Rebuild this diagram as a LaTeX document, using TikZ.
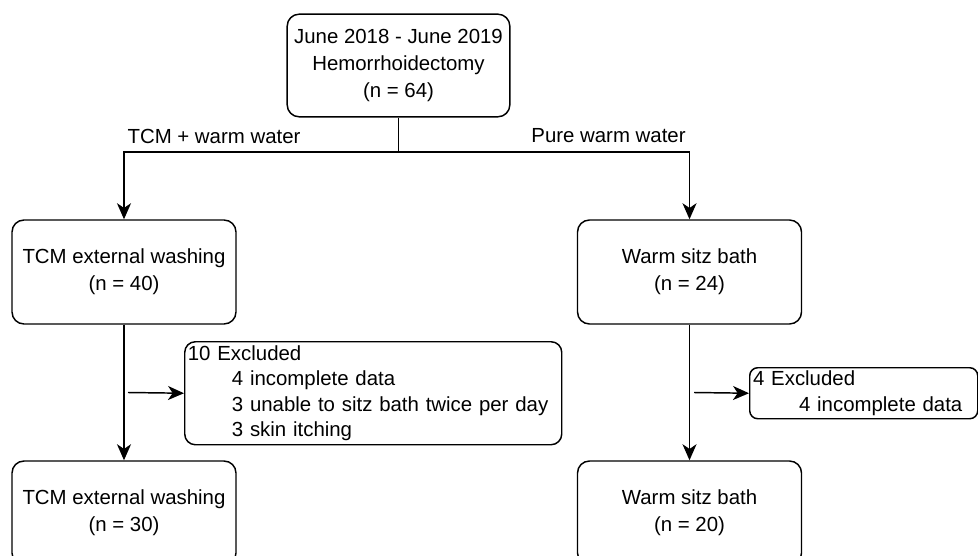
\documentclass[tikz,border=0pt]{standalone}
\usepackage{fontspec}
\setmainfont{Liberation Sans}
\usetikzlibrary{arrows.meta}

\tikzset{
  flowbox/.style={draw, rounded corners=9pt, line width=1.1pt, align=center,
    minimum width=168pt, minimum height=78pt, inner sep=0pt,
    font=\fontsize{15.3}{20}\selectfont},
  exclbox/.style={draw, rounded corners=8pt, line width=1.1pt, align=left,
    anchor=north west, inner sep=2pt, font=\fontsize{15.3}{18.8}\selectfont},
  arrowline/.style={line width=1.1pt, -{Stealth[length=12pt,width=10.5pt,inset=3.5pt]}},
  plainline/.style={line width=1.1pt},
  branchlabel/.style={inner sep=0pt, font=\fontsize{15.3}{18}\selectfont}
}

\begin{document}
\begin{tikzpicture}[x=0.75pt,y=0.75pt,yscale=-1,xscale=1]
\useasboundingbox (0,0) rectangle (978,556);

%Shape: Rounded Rect [id:top]
\node[flowbox, minimum width=167pt, minimum height=77pt] (start) at (398.5,65.5)
  {June 2018 - June 2019\\Hemorrhoidectomy\\(n = 64)};
%Shape: Rounded Rect [id:tcm40]
\node[flowbox] (tcmfirst) at (124,272) {TCM external washing\\(n = 40)};
%Shape: Rounded Rect [id:warm24]
\node[flowbox] (warmfirst) at (689.5,272) {Warm sitz bath\\(n = 24)};
%Shape: Rounded Rect [id:tcm30]
\node[flowbox] (tcmlast) at (124,513) {TCM external washing\\(n = 30)};
%Shape: Rounded Rect [id:warm20]
\node[flowbox] (warmlast) at (689.5,513) {Warm sitz bath\\(n = 20)};

%Shape: Rounded Rect [id:excl10]
\node[exclbox, minimum width=282.75pt, minimum height=77.25pt, text width=278pt] (tcmexcl) at (184,341)
  {10 Excluded\\
   \hspace*{33pt}4 incomplete data\\
   \hspace*{33pt}3 unable to sitz bath twice per day\\
   \hspace*{33pt}3 skin itching};
%Shape: Rounded Rect [id:excl4]
\node[exclbox, rounded corners=6pt, minimum width=171pt, minimum height=38.25pt, text width=166pt] (warmexcl) at (749,367)
  {4 Excluded\\
   \hspace*{34.5pt}4 incomplete data};

%Straight Lines [id:split]
\coordinate (split) at (398.5,152);
\draw[plainline] (start.south) -- (split);
\draw[arrowline] (split) -| (tcmfirst.north);
\draw[arrowline] (split) -| (warmfirst.north);

%Straight Lines [id:down]
\draw[arrowline] (tcmfirst.south) -- (tcmlast.north);
\draw[arrowline] (warmfirst.south) -- (warmlast.north);

%Straight Lines [id:side]
\coordinate (tcmside) at (128,392.5);
\coordinate (warmside) at (694,392.5);
\draw[arrowline] (tcmside) -- (tcmexcl.west);
\draw[arrowline] (warmside) -- (warmexcl.west);

% Text Node
\node[branchlabel] (tcmlabel) at (214,136) {TCM + warm water};
% Text Node
\node[branchlabel] (warmlabel) at (608.5,136) {Pure warm water};

\end{tikzpicture}
\end{document}
